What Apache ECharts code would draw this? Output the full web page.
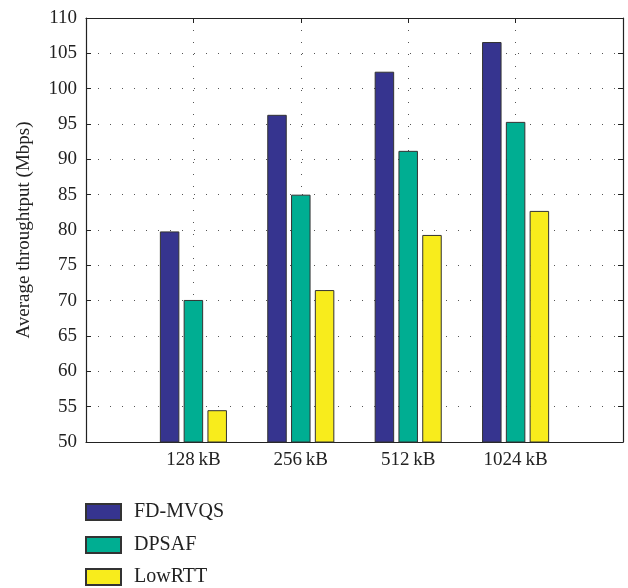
<!DOCTYPE html>
<html>
<head>
<meta charset="utf-8">
<script src="https://cdn.jsdelivr.net/npm/echarts@6/dist/echarts.min.js"></script>
<style>
  html, body { margin: 0; padding: 0; background: #fff; }
  #chart { width: 628px; height: 588px; }
</style>
</head>
<body>
<div id="chart"></div>
<script>
// Packet sizes on the horizontal axis
const categories = ['128\u2009kB', '256\u2009kB', '512\u2009kB', '1024\u2009kB'];
// Average throughput (Mbps) per scheme
const fdMvqs = [79.8, 96.3, 102.4, 106.6];
const dpsaf = [70.1, 85.0, 91.2, 95.3];
const lowRtt = [54.5, 71.5, 79.3, 82.7];
const seriesNames = ['FD-MVQS', 'DPSAF', 'LowRTT'];
const seriesColors = ['#36348f', '#00ae92', '#f8ec1c'];
// Value axis ticks
const yMin = 50, yMax = 110, yStep = 5;

// Empty slots at both ends so the groups sit inside the box
const axisData = [''].concat(categories, ['']);
const pad = v => ['-'].concat(v, ['-']);

const FONT = 'Liberation Serif';
const dotted = { type: [1, 11], color: '#555', width: 1 };

const chart = echarts.init(document.getElementById('chart'));
const valueSets = [fdMvqs, dpsaf, lowRtt];

// One legend row per series, stacked under the plot
const legendRowTops = [502, 535, 567];
const legends = seriesNames.map((name, i) => ({
  orient: 'vertical',
  left: 85,
  top: legendRowTops[i],
  padding: 0,
  itemWidth: 35,
  itemHeight: 16,
  icon: 'rect',
  textStyle: { fontFamily: FONT, fontSize: 20, color: '#222', padding: [0, 0, 0, 8] },
  data: [name]
}));

chart.setOption({
  animation: false,
  textStyle: { fontFamily: FONT },
  grid: { left: 86, right: 5, top: 18, bottom: 146 },
  legend: legends,
  xAxis: [
    {
      type: 'category',
      data: axisData,
      boundaryGap: false,
      axisLine: { lineStyle: { color: '#222', width: 1.2 } },
      axisTick: { inside: true, length: 5, lineStyle: { color: '#222' } },
      axisLabel: { fontFamily: FONT, fontSize: 19, color: '#222', margin: 9 },
      splitLine: { show: true, lineStyle: dotted }
    },
    {
      type: 'category',
      data: axisData,
      boundaryGap: false,
      position: 'top',
      axisLine: { lineStyle: { color: '#222', width: 1.2 } },
      axisTick: { inside: true, length: 5, lineStyle: { color: '#222' } },
      axisLabel: { show: false },
      splitLine: { show: false }
    }
  ],
  yAxis: [
    {
      type: 'value',
      min: yMin, max: yMax, interval: yStep,
      name: 'Average throughtput (Mbps)',
      nameLocation: 'middle',
      nameGap: 52,
      nameTextStyle: { fontFamily: FONT, fontSize: 19, color: '#222' },
      axisLine: { show: true, lineStyle: { color: '#222', width: 1.2 } },
      axisTick: { show: true, inside: true, length: 5, lineStyle: { color: '#222' } },
      axisLabel: { fontFamily: FONT, fontSize: 19, color: '#222', margin: 9 },
      splitLine: { show: true, lineStyle: dotted }
    },
    {
      type: 'value',
      min: yMin, max: yMax, interval: yStep,
      position: 'right',
      axisLine: { show: true, lineStyle: { color: '#222', width: 1.2 } },
      axisTick: { show: true, inside: true, length: 5, lineStyle: { color: '#222' } },
      axisLabel: { show: false },
      splitLine: { show: false }
    }
  ],
  series: seriesNames.map((name, i) => ({
    name: name,
    type: 'bar',
    xAxisIndex: 0,
    yAxisIndex: 0,
    barWidth: 19.5,
    barGap: '22%',
    itemStyle: { color: seriesColors[i], borderColor: '#333', borderWidth: 1 },
    data: pad(valueSets[i])
  }))
});
</script>
</body>
</html>
